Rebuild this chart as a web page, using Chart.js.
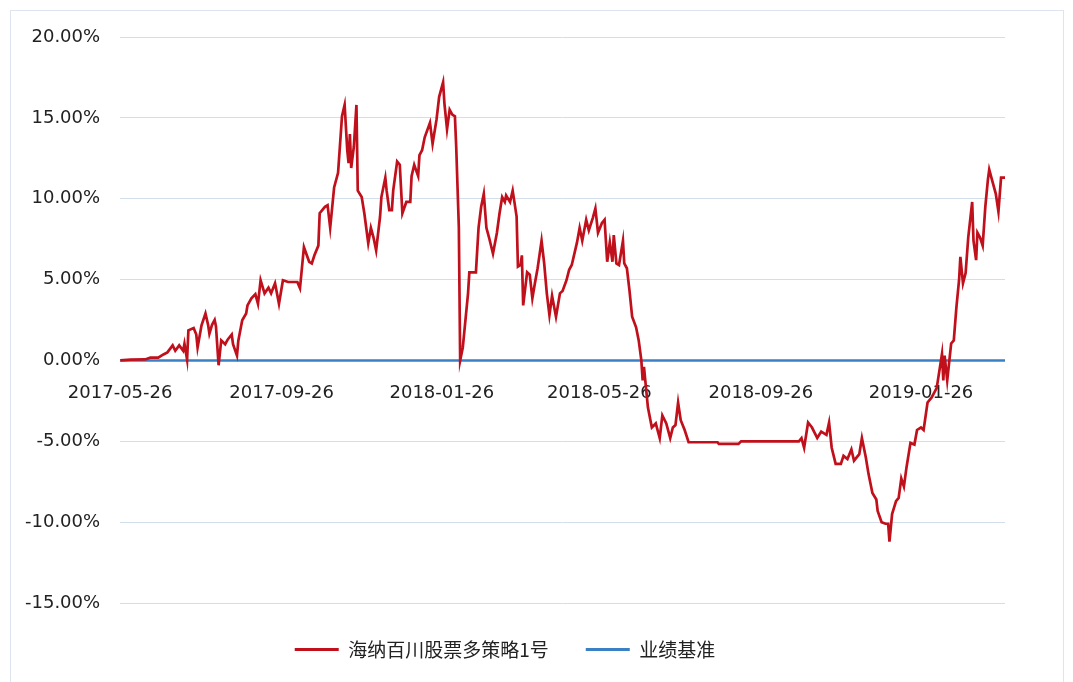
<!DOCTYPE html>
<html>
<head>
<meta charset="utf-8">
<script src="https://cdn.jsdelivr.net/npm/chart.js@4.4.1/dist/chart.umd.min.js"></script>
<style>
  html, body { margin: 0; padding: 0; background: #fff; overflow: hidden; }
  #wrap { position: relative; width: 1073px; height: 682px; }
  #frame { position: absolute; left: 10px; top: 10px; width: 1052px; height: 700px; border: 1px solid #dfe5ee; }
  #chart { position: absolute; left: 0; top: 0; }
</style>
</head>
<body>
<div id="wrap">
  <div id="frame"></div>
  <canvas id="chart" width="1073" height="682"></canvas>
</div>
<script>
// --- data ---
// days since 2017-05-26, cumulative return in %
const startDate = '2017-05-26';
const fundName = '海纳百川股票多策略1号';
const benchName = '业绩基准';

const fundDays = [
  0, 8, 19, 23, 29, 33, 36, 40, 42, 45, 48, 49, 51, 52, 56, 58, 59, 62, 65, 67,
  68, 70, 72, 73, 75, 77, 80, 82, 85, 86, 89, 90, 93, 96, 97, 100, 103, 105, 107, 110,
  113, 115, 118, 121, 124, 128, 135, 137, 140, 144, 146, 148, 151, 152, 156, 158, 160, 163, 166, 169,
  171, 173, 174, 175, 176, 178, 180, 181, 184, 186, 189, 191, 193, 195, 198, 199, 202, 203, 205, 207,
  208, 211, 213, 215, 218, 221, 222, 224, 227, 228, 230, 232, 236, 238, 241, 243, 246, 247, 249, 251,
  253, 255, 256, 258, 259, 261, 265, 266, 271, 273, 275, 277, 279, 281, 284, 287, 289, 291, 293, 294,
  297, 299, 302, 303, 305, 306, 307, 310, 312, 314, 316, 318, 321, 323, 325, 327, 329, 332, 335, 337,
  340, 342, 344, 348, 350, 352, 355, 357, 360, 362, 364, 367, 369, 371, 373, 375, 376, 378, 380, 383,
  384, 386, 388, 390, 393, 395, 397, 398, 399, 402, 405, 408, 411, 413, 416, 419, 421, 423, 425, 427,
  430, 433, 455, 456, 471, 473, 517, 519, 521, 524, 527, 531, 534, 538, 540, 542, 545, 549, 551, 554,
  557, 559, 563, 565, 568, 570, 573, 576, 577, 580, 583, 585, 586, 588, 591, 593, 595, 597, 599, 602,
  605, 607, 610, 612, 615, 618, 620, 622, 626, 627, 628, 630, 633, 635, 637, 639, 640, 642, 644, 646,
  649, 650, 652, 653, 655, 657, 659, 661, 662, 664, 667, 669, 671, 674
];
const fundValues = [
  0, 0.05, 0.06, 0.17, 0.17, 0.37, 0.5, 0.93, 0.6, 0.93, 0.6, 1.03, 0.05, 1.86, 2.0, 1.6, 0.8, 2.17, 2.9, 2.2,
  1.65, 2.2, 2.5, 2.1, -0.3, 1.24, 1.0, 1.3, 1.6, 1.0, 0.3, 1.2, 2.48, 2.9, 3.4, 3.84, 4.1, 3.5, 4.96, 4.15,
  4.5, 4.15, 4.77, 3.5, 4.96, 4.85, 4.85, 4.46, 7.0, 6.1, 6.0, 6.5, 7.1, 9.1, 9.5, 9.6, 8.2, 10.7, 11.6, 15.1,
  15.8, 13.0, 12.2, 14.0, 11.9, 13.2, 15.8, 10.5, 10.1, 9.1, 7.25, 8.2, 7.6, 6.8, 8.9, 10.1, 11.3, 10.5, 9.3, 9.3,
  10.5, 12.3, 12.1, 9.1, 9.8, 9.8, 11.4, 12.1, 11.4, 12.7, 13.0, 13.8, 14.7, 13.4, 14.9, 16.3, 17.2, 15.9, 14.3, 15.5,
  15.2, 15.1, 13.2, 8.2, 0, 0.8, 4.15, 5.45, 5.45, 8.2, 9.5, 10.3, 8.2, 7.6, 6.6, 7.9, 9.1, 10.1, 9.8, 10.2,
  9.8, 10.5, 8.9, 5.8, 5.9, 6.5, 3.4, 5.45, 5.3, 3.84, 4.8, 5.7, 7.4, 6.0, 4.15, 2.8, 4.0, 2.7, 4.15, 4.3,
  4.96, 5.6, 5.9, 7.3, 8.2, 7.4, 8.7, 8.05, 8.8, 9.4, 7.9, 8.5, 8.7, 6.1, 7.3, 6.1, 7.75, 6.0, 5.9, 7.4,
  6.0, 5.7, 4.3, 2.7, 2.05, 1.24, 0, -1.24, -0.4, -2.9, -4.15, -3.9, -4.8, -3.4, -3.9, -4.8, -4.15, -4.0, -2.6, -3.7,
  -4.3, -5.06, -5.06, -5.16, -5.16, -5.0, -5.0, -4.8, -5.4, -3.84, -4.15, -4.8, -4.4, -4.6, -3.84, -5.4, -6.4, -6.4, -5.9, -6.1,
  -5.5, -6.2, -5.8, -4.8, -6.0, -7.0, -8.2, -8.6, -9.3, -10.0, -10.1, -10.1, -11.2, -9.5, -8.7, -8.5, -7.3, -7.8, -6.6, -5.1,
  -5.2, -4.3, -4.15, -4.3, -2.6, -2.3, -2.0, -1.7, 0.4, -1.24, 0.3, -1.24, 1.05, 1.24, 3.3, 4.96, 6.4, 4.77, 5.4, 7.6,
  9.8, 7.4, 6.2, 7.9, 7.6, 7.1, 9.5, 11.2, 11.8, 11.2, 10.3, 9.2, 11.3, 11.3
];

// benchmark stays flat at 0 over the whole period
const benchDays = [0, 674];
const benchValues = [0, 0];

const tickLabels = ['2017-05-26', '2017-09-26', '2018-01-26', '2018-05-26', '2018-09-26', '2019-01-26'];
const yTicks = [-15, -10, -5, 0, 5, 10, 15, 20];

function daysFromStart(s) {
  return Math.round((Date.parse(s) - Date.parse(startDate)) / 86400000);
}
const tickDays = tickLabels.map(daysFromStart);

const toPoints = (xs, ys) => xs.map((d, i) => ({ x: d, y: ys[i] }));

const red = '#c0101c';
const blue = '#3a80c4';
const tickFont = { family: 'DejaVu Sans', size: 18 };

new Chart(document.getElementById('chart').getContext('2d'), {
  type: 'line',
  data: {
    datasets: [
      { label: fundName, data: toPoints(fundDays, fundValues), borderColor: red, backgroundColor: red,
        borderWidth: 2.7, pointRadius: 0, tension: 0 },
      { label: benchName, data: toPoints(benchDays, benchValues), borderColor: blue, backgroundColor: blue,
        borderWidth: 2.5, pointRadius: 0, tension: 0 }
    ]
  },
  options: {
    responsive: false,
    animation: false,
    events: [],
    layout: { padding: { top: 37, left: 5, right: 68, bottom: 13 } },
    scales: {
      x: {
        type: 'linear',
        min: 0,
        max: 674,
        position: { y: 0 },
        grid: { display: false, drawTicks: false },
        border: { display: false },
        afterBuildTicks: axis => { axis.ticks = tickDays.map(v => ({ value: v })); },
        ticks: {
          padding: 22,
          color: '#222',
          font: tickFont,
          maxRotation: 0,
          autoSkip: false,
          callback: v => tickLabels[tickDays.indexOf(v)]
        }
      },
      y: {
        min: -15,
        max: 20,
        afterBuildTicks: axis => { axis.ticks = yTicks.map(v => ({ value: v })); },
        grid: { color: '#d3deeb', lineWidth: 1, drawTicks: false },
        border: { display: false },
        ticks: {
          padding: 20,
          color: '#222',
          font: tickFont,
          callback: v => v.toFixed(2) + '%'
        }
      }
    },
    plugins: {
      tooltip: { enabled: false },
      legend: {
        position: 'bottom',
        labels: {
          boxWidth: 44,
          boxHeight: 3,
          padding: 37,
          color: '#222',
          font: { family: 'Noto Sans CJK SC', size: 19 },
          generateLabels: chart => Chart.defaults.plugins.legend.labels.generateLabels(chart)
            .map(l => Object.assign(l, { lineWidth: 0, fillStyle: l.strokeStyle }))
        }
      }
    }
  }
});
</script>
</body>
</html>
